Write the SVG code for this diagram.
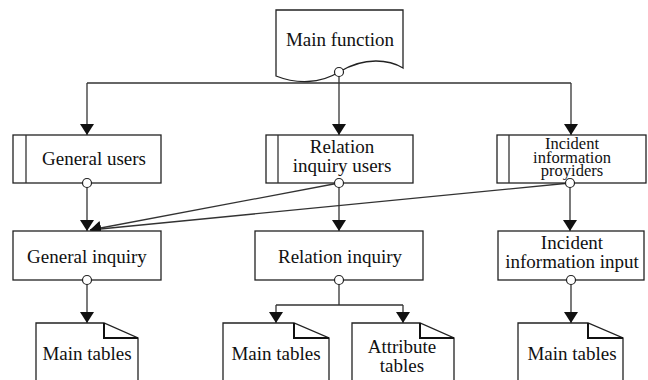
<svg xmlns="http://www.w3.org/2000/svg" width="648" height="380" viewBox="0 0 648 380">
  <style>
    .box { fill: #fff; stroke: #222; stroke-width: 1.3; }
    .ln { fill: none; stroke: #333; stroke-width: 1.3; }
    .port { fill: #fff; stroke: #222; stroke-width: 1.2; }
    .fold { fill: none; stroke: #111; stroke-width: 2; }
    text { font-family: "Liberation Serif", "Times New Roman", Times, serif; font-size: 19px; fill: #111; text-anchor: middle; }
    .small { font-size: 16.5px; }
  </style>
  <defs>
    <!-- filled arrowhead, tip at the line end -->
    <marker id="arrow" viewBox="0 0 11 14" refX="11" refY="7" markerWidth="11" markerHeight="14" markerUnits="userSpaceOnUse" orient="auto">
      <path d="M0,0 L11,7 L0,14 Z" fill="#111"/>
    </marker>
  </defs>

  <!-- connectors -->
  <g id="connectors">
    <path class="ln" d="M339,72 V135" marker-end="url(#arrow)"/>
    <path class="ln" d="M87,83 H571"/>
    <path class="ln" d="M87,83 V135" marker-end="url(#arrow)"/>
    <path class="ln" d="M571,83 V135" marker-end="url(#arrow)"/>
    <path class="ln" d="M87,183 V231" marker-end="url(#arrow)"/>
    <path class="ln" d="M339,183 V231" marker-end="url(#arrow)"/>
    <path class="ln" d="M570,183 V231" marker-end="url(#arrow)"/>
    <path class="ln" d="M339,183 L90,230" marker-end="url(#arrow)"/>
    <path class="ln" d="M570,183 L90,230" marker-end="url(#arrow)"/>
    <path class="ln" d="M87,280 V323" marker-end="url(#arrow)"/>
    <path class="ln" d="M339,280 V305 M276,305 H403"/>
    <path class="ln" d="M276,305 V323" marker-end="url(#arrow)"/>
    <path class="ln" d="M403,305 V323" marker-end="url(#arrow)"/>
    <path class="ln" d="M571,280 V323" marker-end="url(#arrow)"/>
  </g>

  <!-- main function (document shape) -->
  <g id="main-function">
    <path class="box" d="M276,10 H403 V68 C390,60 365,56 339,72 C320,84 296,84 276,76 Z"/>
    <text x="340" y="46">Main function</text>
    <circle class="port" cx="339" cy="72" r="4.5"/>
  </g>

  <!-- user processes -->
  <g id="general-users">
    <rect class="box" x="13" y="135" width="148" height="48"/>
    <path class="ln" d="M26,135 V183"/>
    <text x="94" y="165">General users</text>
    <circle class="port" cx="87" cy="183" r="4.5"/>
  </g>
  <g id="relation-inquiry-users">
    <rect class="box" x="266" y="135" width="147" height="48"/>
    <path class="ln" d="M278,135 V183"/>
    <text x="342" y="153">Relation</text>
    <text x="342" y="172">inquiry users</text>
    <circle class="port" cx="339" cy="183" r="4.5"/>
  </g>
  <g id="incident-information-providers">
    <rect class="box" x="497" y="135" width="149" height="48"/>
    <path class="ln" d="M509,135 V183"/>
    <text class="small" x="572" y="149">Incident</text>
    <text class="small" x="572" y="163">information</text>
    <text class="small" x="572" y="176">proyiders</text>
    <circle class="port" cx="570" cy="183" r="4.5"/>
  </g>

  <!-- inquiry processes -->
  <g id="general-inquiry">
    <rect class="box" x="13" y="231" width="148" height="49"/>
    <text x="87" y="263">General inquiry</text>
    <circle class="port" cx="87" cy="280" r="4.5"/>
  </g>
  <g id="relation-inquiry">
    <rect class="box" x="255" y="231" width="168" height="49"/>
    <text x="340" y="263">Relation inquiry</text>
    <circle class="port" cx="339" cy="280" r="4.5"/>
  </g>
  <g id="incident-information-input">
    <rect class="box" x="498" y="231" width="146" height="49"/>
    <text x="572" y="249">Incident</text>
    <text x="572" y="268">information input</text>
    <circle class="port" cx="571" cy="280" r="4.5"/>
  </g>

  <!-- tables (folded-corner documents) -->
  <g id="main-tables-1">
    <path class="box" d="M36,390 V323 H104 L138,338 V390"/>
    <path class="fold" d="M104,323 V338 H138"/>
    <text x="87" y="360">Main tables</text>
  </g>
  <g id="main-tables-2">
    <path class="box" d="M223,390 V323 H294 L329,338 V390"/>
    <path class="fold" d="M294,323 V338 H329"/>
    <text x="276" y="360">Main tables</text>
  </g>
  <g id="attribute-tables">
    <path class="box" d="M352,390 V323 H420 L454,338 V390"/>
    <path class="fold" d="M420,323 V338 H454"/>
    <text x="402" y="353">Attribute</text>
    <text x="402" y="372">tables</text>
  </g>
  <g id="main-tables-3">
    <path class="box" d="M518,390 V323 H588 L623,338 V390"/>
    <path class="fold" d="M588,323 V338 H623"/>
    <text x="572" y="360">Main tables</text>
  </g>
</svg>
